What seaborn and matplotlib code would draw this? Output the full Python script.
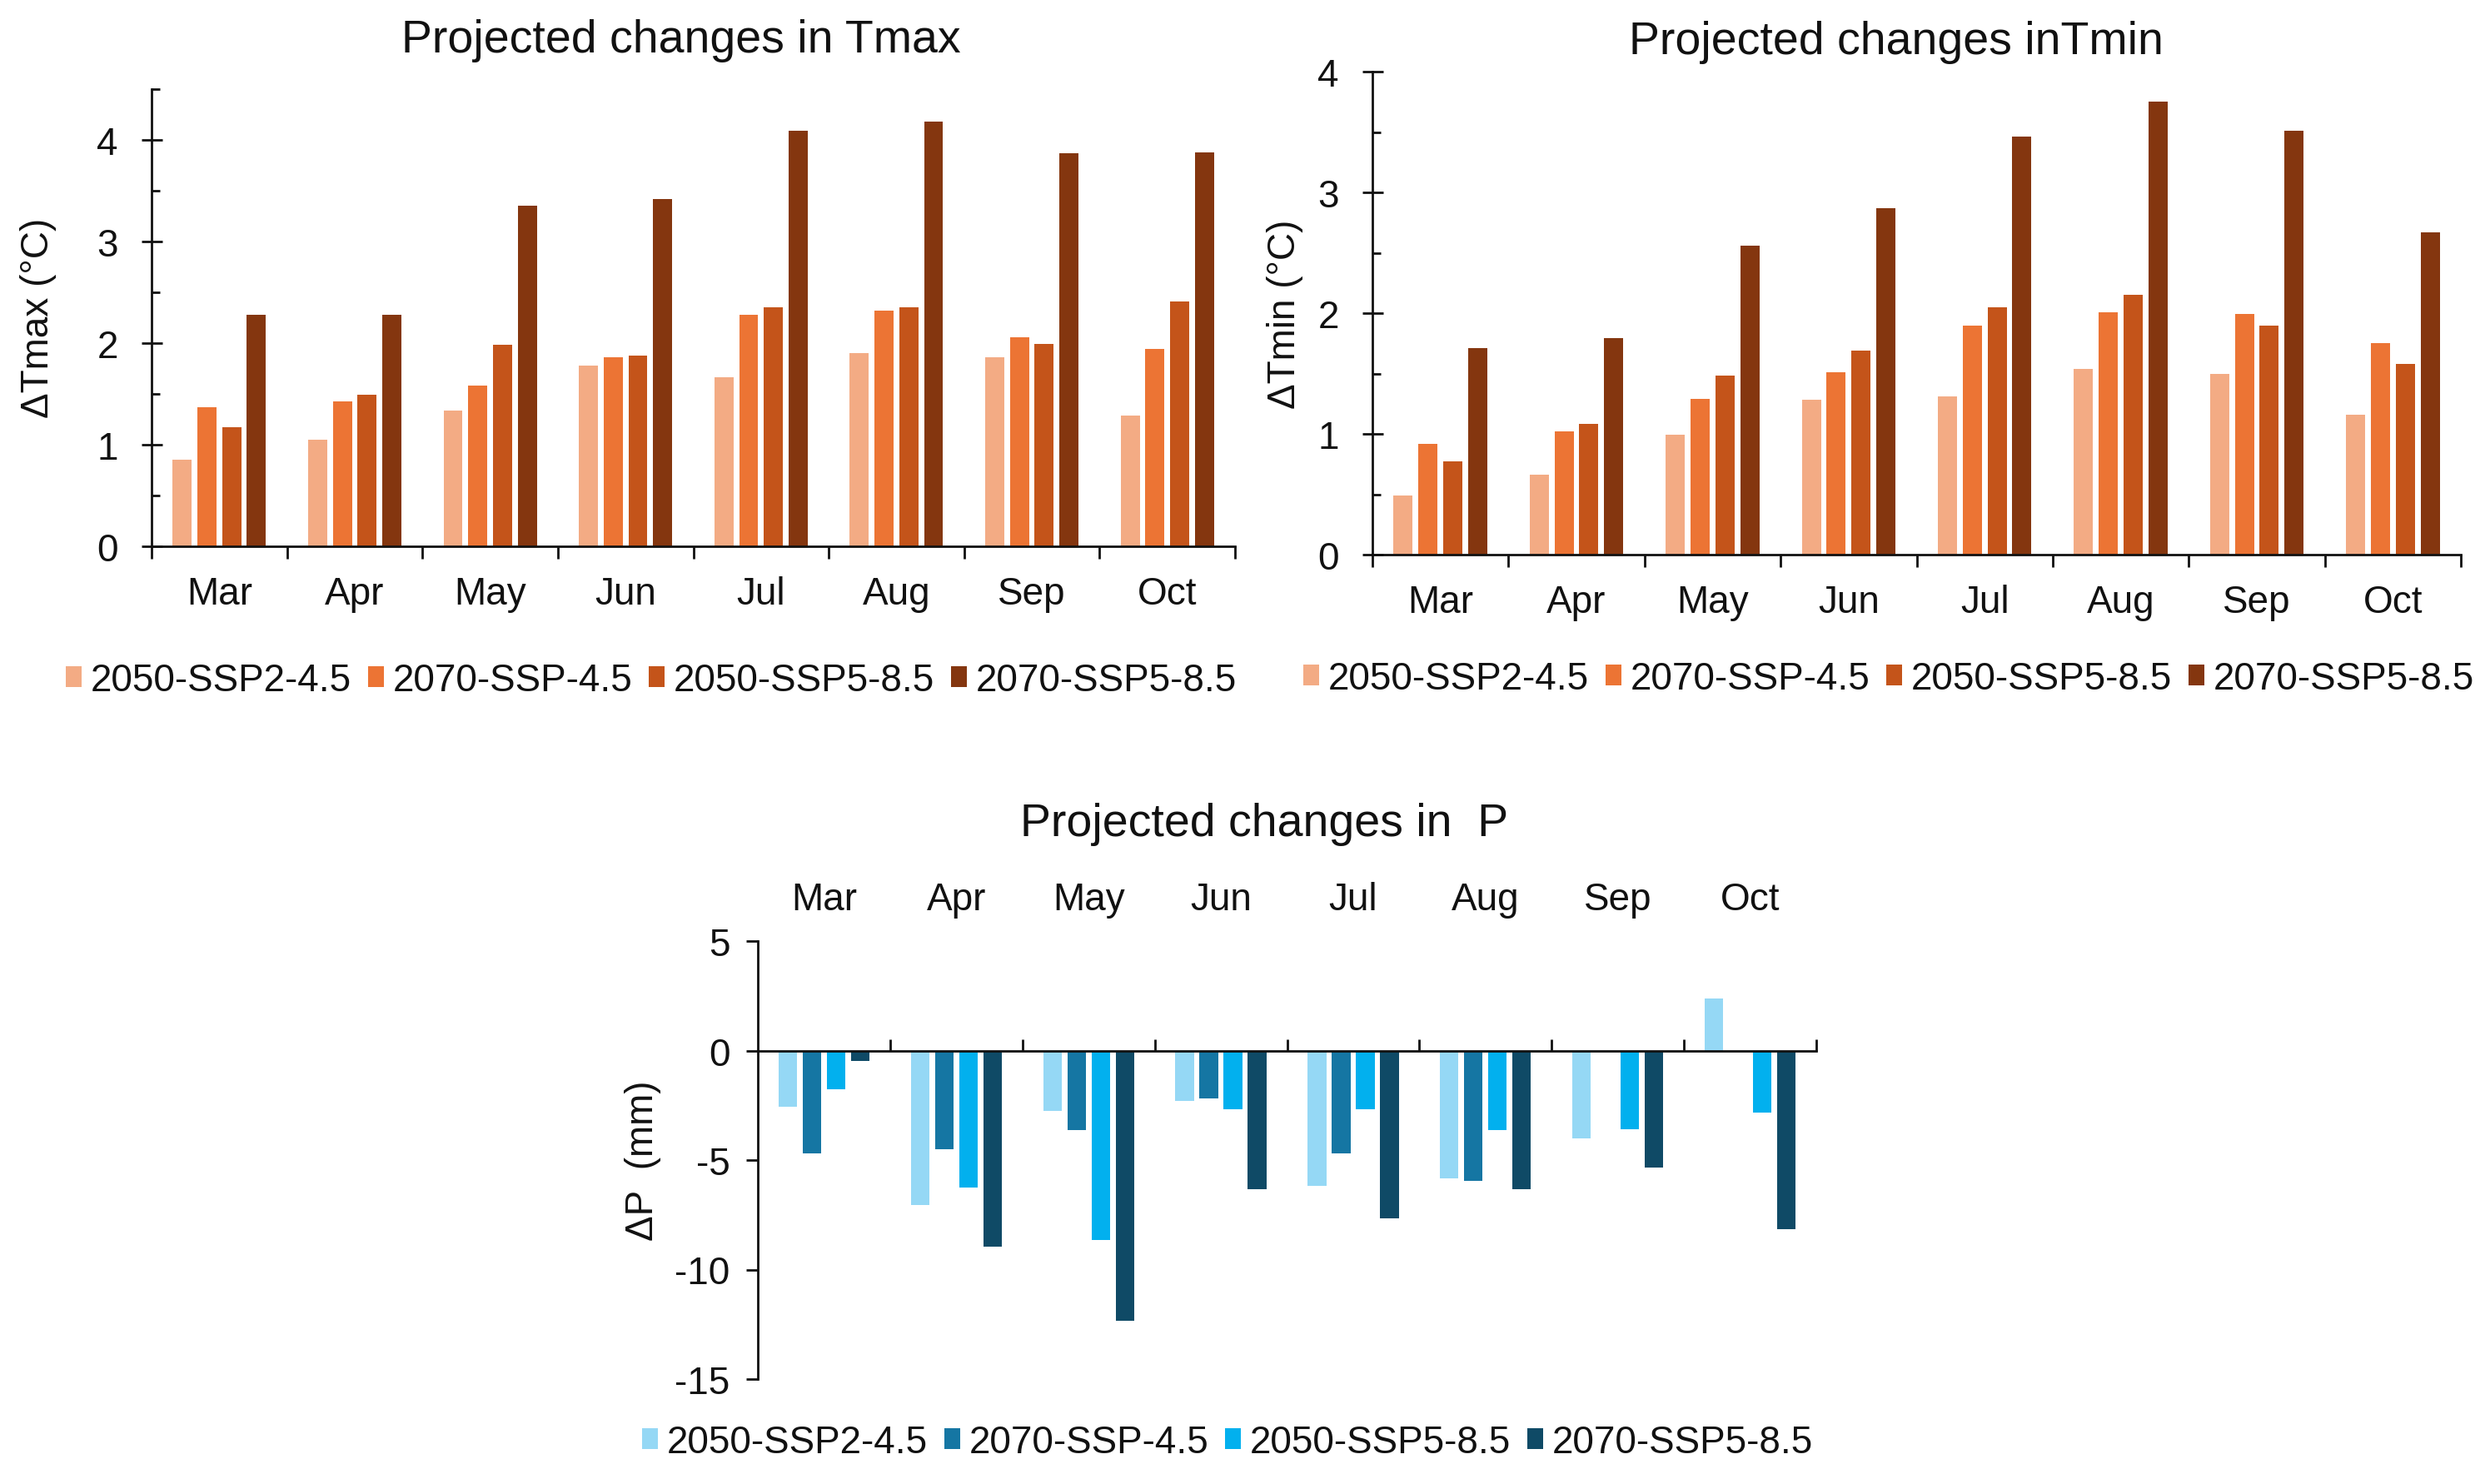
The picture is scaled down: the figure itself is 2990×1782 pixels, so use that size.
import numpy as np
import pandas as pd
import matplotlib
matplotlib.use("Agg")
import matplotlib.pyplot as plt
from matplotlib.ticker import MultipleLocator, FixedLocator
import seaborn as sns

months = ['Mar', 'Apr', 'May', 'Jun', 'Jul', 'Aug', 'Sep', 'Oct']
scenarios = ['2050-SSP2-4.5', '2070-SSP-4.5', '2050-SSP5-8.5', '2070-SSP5-8.5']

# Tmax changes (degC)
tmax_2050_245 = [0.85, 1.05, 1.34, 1.78, 1.66, 1.90, 1.86, 1.29]
tmax_2070_245 = [1.37, 1.43, 1.58, 1.86, 2.28, 2.32, 2.06, 1.94]
tmax_2050_585 = [1.17, 1.49, 1.98, 1.88, 2.35, 2.35, 1.99, 2.41]
tmax_2070_585 = [2.28, 2.28, 3.35, 3.42, 4.09, 4.18, 3.87, 3.88]

# Tmin changes (degC)
tmin_2050_245 = [0.49, 0.66, 0.99, 1.28, 1.31, 1.54, 1.50, 1.16]
tmin_2070_245 = [0.92, 1.02, 1.29, 1.51, 1.90, 2.01, 1.99, 1.75]
tmin_2050_585 = [0.77, 1.08, 1.48, 1.69, 2.05, 2.15, 1.90, 1.58]
tmin_2070_585 = [1.71, 1.79, 2.56, 2.87, 3.46, 3.75, 3.51, 2.67]

# precipitation changes (mm)
p_2050_245 = [-2.57, -7.07, -2.74, -2.31, -6.17, -5.85, -4.03, 2.36]
p_2070_245 = [-4.71, -4.50, -3.64, -2.19, -4.71, -5.94, 0.0, 0.0]
p_2050_585 = [-1.76, -6.26, -8.64, -2.68, -2.68, -3.64, -3.58, -2.83]
p_2070_585 = [-0.49, -8.94, -12.32, -6.32, -7.67, -6.32, -5.36, -8.14]

warm = ['#F3AB84', '#EC7434', '#C4541A', '#84360F']
cool = ['#95D8F5', '#1576A3', '#02B0EE', '#0F4A66']


def long_df(series):
    rows = []
    for sc, vals in zip(scenarios, series):
        for m, v in zip(months, vals):
            rows.append({'month': m, 'scenario': sc, 'value': v})
    return pd.DataFrame(rows)


sns.set_style("ticks")
plt.rcParams['font.family'] = ['Liberation Sans', 'DejaVu Sans']
plt.rcParams['axes.unicode_minus'] = False
plt.rcParams['text.color'] = '#111111'
plt.rcParams['xtick.color'] = '#111111'
plt.rcParams['ytick.color'] = '#111111'

W, H = 2990, 1783
fig = plt.figure(figsize=(W / 100, H / 100), dpi=100)

ax1 = fig.add_axes([182 / W, 1 - 657 / H, 1301 / W, 549 / H])
ax2 = fig.add_axes([1648 / W, 1 - 667 / H, 1307 / W, 580 / H])
ax3 = fig.add_axes([910 / W, 1 - 1657 / H, 1271 / W, 526 / H])


def bars(ax, df, pal):
    sns.barplot(data=df, x='month', y='value', hue='scenario', order=months,
                hue_order=scenarios, palette=pal, width=0.73, gap=0.23,
                saturation=1, errorbar=None, linewidth=0, ax=ax)
    h, l = ax.get_legend_handles_labels()
    ax.get_legend().remove()
    ax.set_xlabel('')
    ax.set_ylabel('')
    ax.set_xlim(-0.5, 7.5)
    return h, l


def temp_style(ax, ymax):
    ax.set_ylim(0, ymax)
    ax.spines[['top', 'right']].set_visible(False)
    for s in ['left', 'bottom']:
        ax.spines[s].set_linewidth(2)
        ax.spines[s].set_color('#111111')
    ax.yaxis.set_major_locator(MultipleLocator(1))
    ax.yaxis.set_minor_locator(MultipleLocator(0.5))
    ax.tick_params(axis='y', which='major', direction='inout', length=18, width=2, pad=20, labelsize=33)
    ax.tick_params(axis='y', which='minor', direction='in', length=7, width=2)
    ax.xaxis.set_minor_locator(FixedLocator(np.arange(-0.5, 8, 1)))
    ax.tick_params(axis='x', which='major', length=0, pad=25, labelsize=33)
    ax.tick_params(axis='x', which='minor', direction='out', length=11, width=2)


h1, l1 = bars(ax1, long_df([tmax_2050_245, tmax_2070_245, tmax_2050_585, tmax_2070_585]), warm)
temp_style(ax1, 4.5)
h2, l2 = bars(ax2, long_df([tmin_2050_245, tmin_2070_245, tmin_2050_585, tmin_2070_585]), warm)
temp_style(ax2, 4)
h3, l3 = bars(ax3, long_df([p_2050_245, p_2070_245, p_2050_585, p_2070_585]), cool)

# precipitation panel: axis at zero, month names on top
ax3.set_ylim(-15, 5)
ax3.spines[['top', 'right']].set_visible(False)
ax3.spines['bottom'].set_position(('data', 0))
for s in ['left', 'bottom']:
    ax3.spines[s].set_linewidth(2)
    ax3.spines[s].set_color('#111111')
ax3.yaxis.set_major_locator(MultipleLocator(5))
ax3.tick_params(axis='y', which='major', direction='out', length=10, width=2, pad=14, labelsize=33)
ax3.xaxis.set_minor_locator(FixedLocator(np.arange(0.5, 8, 1)))
ax3.tick_params(axis='x', which='major', length=0, labelbottom=False)
ax3.tick_params(axis='x', which='minor', direction='in', length=10, width=2)
sec = ax3.secondary_xaxis('top')
sec.set_xticks(range(len(months)), months)
sec.tick_params(length=0, pad=20, labelsize=33)
sec.spines['top'].set_visible(False)

# titles and y labels
fig.text(818 / W, 1 - 49 / H, 'Projected changes in Tmax', fontsize=40, ha='center', va='center')
fig.text(2277 / W, 1 - 51 / H, 'Projected changes inTmin', fontsize=40, ha='center', va='center')
fig.text(1518 / W, 1 - 990 / H, 'Projected changes in  P', fontsize=40, ha='center', va='center')
fig.text(46 / W, 1 - 382 / H, 'ΔTmax (°C)', fontsize=33, rotation=90, ha='center', va='center')
fig.text(1543 / W, 1 - 377 / H, 'ΔTmin (°C)', fontsize=33, rotation=90, ha='center', va='center')
fig.text(772 / W, 1 - 1394 / H, 'ΔP  (mm)', fontsize=33, rotation=90, ha='center', va='center')

leg_kw = dict(loc='center', ncol=4, frameon=False, fontsize=33, handlelength=0.42,
              handleheight=0.45, handletextpad=0.24, columnspacing=0.42,
              borderpad=0, borderaxespad=0)
fig.legend(h1, l1, bbox_to_anchor=(782 / W, 1 - 818 / H), **leg_kw)
fig.legend(h2, l2, bbox_to_anchor=(2268 / W, 1 - 816 / H), **leg_kw)
fig.legend(h3, l3, bbox_to_anchor=(1474 / W, 1 - 1733 / H), **leg_kw)

fig.savefig('out.png', dpi=100)
